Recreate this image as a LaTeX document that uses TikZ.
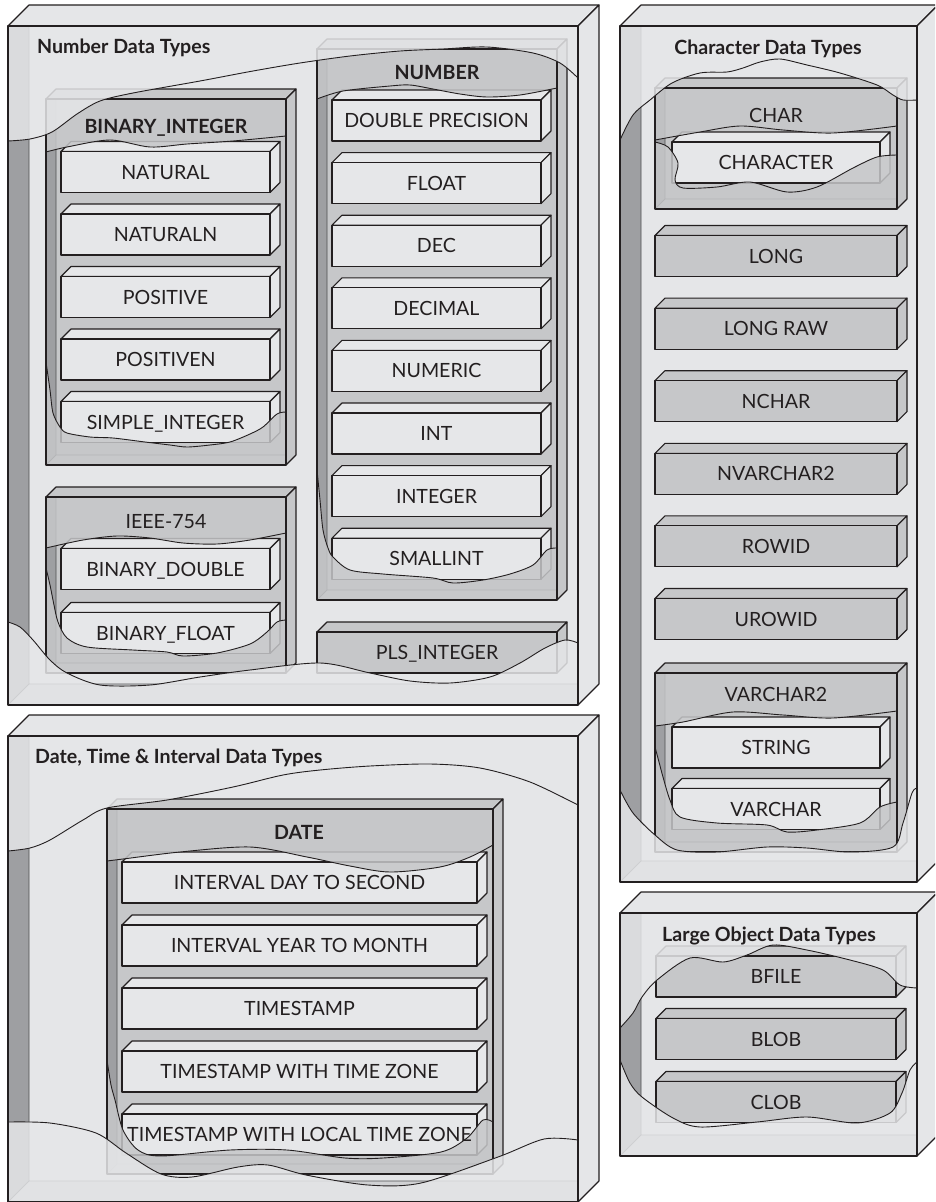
\documentclass[tikz,border=0pt]{standalone}
\usepackage{fontspec}
\setmainfont{Lato}
\pgfdeclarelayer{fg}
\pgfsetlayers{main,fg}
\definecolor{panel}{RGB}{229,230,232}
\definecolor{mid}{RGB}{198,199,201}
\definecolor{wall}{RGB}{158,159,162}
\definecolor{floorc}{RGB}{208,209,211}
\definecolor{ink}{RGB}{35,31,32}
\definecolor{innerc}{RGB}{80,80,82}
\definecolor{itemc}{RGB}{230,231,233}
\tikzset{
 edge/.style={draw=ink,line width=1.1pt,line join=round},
 innerln/.style={draw=innerc,line width=0.8pt},
 wave/.style={draw=ink,line width=0.9pt},
 lbl/.style={font=\fontsize{19.6}{22}\selectfont,text=ink,inner sep=0pt,text height=14pt,text depth=0pt},
 hdr/.style={lbl,font=\fontsize{19.6}{22}\selectfont\bfseries},
}
% container: x1 y1 x2 y2 depth face
\newcommand\cont[6]{%
 \filldraw[edge,fill=#6] (#1,#2) -- (#1+#5,#2-#5) -- (#3+#5,#2-#5) -- (#3,#2) -- cycle;
 \filldraw[edge,fill=#6] (#3,#2) -- (#3+#5,#2-#5) -- (#3+#5,#4-#5) -- (#3,#4) -- cycle;
 \fill[#6] (#1,#2) rectangle (#3,#4);
 \fill[wall] (#1,#2) -- (#1+#5,#2) -- (#1+#5,#4-#5) -- (#1,#4) -- cycle;
 \fill[floorc] (#1,#4) -- (#1+#5,#4-#5) -- (#3,#4-#5) -- (#3,#4) -- cycle;
 \draw[innerln] (#1+#5,#2) -- (#1+#5,#4-#5) -- (#3,#4-#5) (#1+#5,#4-#5) -- (#1,#4);
}
% front glass with a torn opening: x1 y1 x2 y2 face topwave bottomwave
\newcommand\glass[7]{%
 \begin{scope}
  \clip (#1,#2) rectangle (#3,#4);
  \fill[#5,opacity=0.85] (#1,#2) -- plot[smooth] coordinates {#6} -- (#3,#2) -- cycle;
  \fill[#5,opacity=0.85] (#1,#4) -- plot[smooth] coordinates {#7} -- (#3,#4) -- cycle;
 \end{scope}
 \draw[edge] (#1,#2) rectangle (#3,#4);
 \draw[wave] plot[smooth] coordinates {#6};
 \draw[wave] plot[smooth] coordinates {#7};
}
% solid item: x1 x2 cy fill name text
\newcommand\itm[6]{%
 \filldraw[edge,fill=#4] (#1,#3-20.5) -- (#1+10,#3-30.5) -- (#2+10,#3-30.5) -- (#2,#3-20.5) -- cycle;
 \filldraw[edge,fill=#4] (#2,#3-20.5) -- (#2+10,#3-30.5) -- (#2+10,#3+10.5) -- (#2,#3+20.5) -- cycle;
 \filldraw[edge,fill=#4] (#1,#3-20.5) rectangle (#2,#3+20.5);
 \begin{pgfonlayer}{fg}\node[lbl] (#5) at ({(#1+#2)/2},#3) {#6};\end{pgfonlayer}
}
\begin{document}
\begin{tikzpicture}[x=1pt,y=-1pt]
\useasboundingbox (0,0) rectangle (935,1202);
\clip (0,0) rectangle (935,1202);
\fill[white] (0,0) rectangle (935,1202);

% ===== Panel 1: Number Data Types =====
\cont{8}{26}{578}{705}{21}{panel}
% BINARY_INTEGER
\cont{46}{99}{286}{465}{10}{mid}
\itm{61}{270}{172}{itemc}{natural}{NATURAL}
\itm{61}{270}{234.5}{itemc}{naturaln}{NATURALN}
\itm{61}{270}{297}{itemc}{positive}{POSITIVE}
\itm{61}{270}{359.5}{itemc}{positiven}{POSITIVEN}
\itm{61}{270}{422}{itemc}{simpleint}{SIMPLE\_INTEGER}
\glass{46}{99}{286}{465}{mid}{(46,152) (67,147) (110,140) (150,147) (187,144) (233,141) (286,136)}{(46,362) (50,390) (53,413) (60,427) (67,433) (90,437) (113,438) (145,442) (170,445) (187,447) (210,445) (230,442) (250,434) (263,427) (277,414) (286,412)}
% IEEE-754
\cont{46}{497}{286}{673}{10}{mid}
\itm{61}{270}{569}{itemc}{bdouble}{BINARY\_DOUBLE}
\itm{61}{270}{633}{itemc}{bfloat}{BINARY\_FLOAT}
\glass{46}{497}{286}{673}{mid}{(46,548) (83,540) (117,536) (150,538) (183,543) (217,544) (250,540) (286,533)}{(46,568) (50,585) (54,605) (58,622) (67,638) (87,647) (133,650) (167,652) (183,656) (217,653) (250,644) (267,632) (277,622) (286,620)}
% NUMBER
\cont{317}{49}{557}{600}{10}{mid}
\itm{332}{541}{120.5}{itemc}{dblprec}{DOUBLE PRECISION}
\itm{332}{541}{183.1}{itemc}{float}{FLOAT}
\itm{332}{541}{245.7}{itemc}{dec}{DEC}
\itm{332}{541}{308.3}{itemc}{decimal}{DECIMAL}
\itm{332}{541}{370.9}{itemc}{numeric}{NUMERIC}
\itm{332}{541}{433.5}{itemc}{int}{INT}
\itm{332}{541}{496.1}{itemc}{integer}{INTEGER}
\itm{332}{541}{558.7}{itemc}{smallint}{SMALLINT}
\glass{317}{49}{557}{600}{mid}{(317,99) (343,91) (390,86) (410,85) (433,89) (460,94) (487,97) (520,95) (557,88)}{(317,470) (320,500) (323,530) (328,548) (333,557) (350,570) (383,574) (433,578) (453,583) (483,580) (510,574) (533,565) (547,550) (557,548)}
% PLS_INTEGER
\itm{317}{557}{652.5}{mid}{pls}{PLS\_INTEGER}
\glass{8}{26}{578}{705}{panel}{(8,141) (30,139) (52,132) (77,114) (100,101) (133,93) (200,81) (253,71) (300,63) (350,56) (400,51) (443,49) (487,47) (533,53) (560,63) (578,78)}{(8,622) (20,627) (33,640) (50,660) (67,673) (100,685) (150,685) (200,677) (250,670) (320,663) (370,673) (410,681) (450,683) (490,677) (520,663) (545,648) (565,640) (578,643)}
\begin{pgfonlayer}{fg}
\node[hdr,anchor=west] (t1) at (37,46.5) {Number Data Types};
\node[hdr] (hbi) at (166,126) {BINARY\_INTEGER};
\node[lbl] (hieee) at (166,521) {IEEE-754};
\node[hdr] (hnum) at (437,72) {NUMBER};
\end{pgfonlayer}

% ===== Panel 2: Character Data Types =====
\cont{620}{26}{917}{882}{21}{panel}
\cont{655}{88}{897}{209}{10}{mid}
\itm{672}{880}{162.5}{itemc}{character}{CHARACTER}
\glass{655}{88}{897}{209}{mid}{(655,140) (700,132) (740,126) (783,130) (833,133) (897,126)}{(655,142) (668,147) (678,163) (675,180) (683,188) (717,187) (750,182) (787,192) (817,187) (853,168) (877,157) (897,155)}
\itm{655}{897}{256}{mid}{long}{LONG}
\itm{655}{897}{328.6}{mid}{longraw}{LONG RAW}
\itm{655}{897}{401.2}{mid}{nchar}{NCHAR}
\itm{655}{897}{473.8}{mid}{nvarchar}{NVARCHAR2}
\itm{655}{897}{546.4}{mid}{rowid}{ROWID}
\itm{655}{897}{619}{mid}{urowid}{UROWID}
\cont{655}{673}{897}{852}{10}{mid}
\itm{672}{880}{747.5}{itemc}{string}{STRING}
\itm{672}{880}{809}{itemc}{varchar}{VARCHAR}
\glass{655}{673}{897}{852}{mid}{(655,726) (683,722) (733,712) (783,715) (833,718) (897,711)}{(655,747) (659,762) (663,777) (670,800) (680,817) (717,823) (767,825) (787,832) (817,830) (860,823) (880,807) (897,802)}
\glass{620}{26}{917}{882}{panel}{(620,140) (633,115) (650,100) (672,83) (700,73) (727,72) (743,68) (760,62) (780,59) (807,65) (840,73) (877,85) (893,95) (903,100) (917,100)}{(620,790) (633,813) (655,835) (677,850) (717,852) (767,847) (807,848) (850,852) (893,847) (903,823) (912,793) (917,788)}
\begin{pgfonlayer}{fg}
\node[hdr] (t2) at (768,47) {Character Data Types};
\node[lbl] (hchar) at (776,115.5) {CHAR};
\node[lbl] (hvc2) at (776,694) {VARCHAR2};
\end{pgfonlayer}

% ===== Panel 3: Large Object Data Types =====
\cont{620}{913}{917}{1156}{21}{panel}
\itm{656}{896}{976.5}{mid}{bfile}{BFILE}
\itm{656}{896}{1039}{mid}{blob}{BLOB}
\itm{656}{896}{1102}{mid}{clob}{CLOB}
\glass{620}{913}{917}{1156}{panel}{(620,1028) (633,1013) (642,997) (657,980) (690,958) (723,962) (747,955) (773,945) (807,950) (850,960) (883,970) (900,985) (917,988)}{(620,1060) (630,1083) (642,1097) (673,1118) (700,1127) (757,1122) (807,1117) (857,1123) (890,1113) (902,1093) (910,1070) (917,1062)}
\begin{pgfonlayer}{fg}
\node[hdr] (t3) at (769,934) {Large Object Data Types};
\end{pgfonlayer}

% ===== Panel 4: Date, Time & Interval Data Types =====
\cont{8}{736}{578}{1202}{21}{panel}
\cont{107}{809}{493}{1174}{10}{mid}
\itm{122}{477}{882.5}{itemc}{ids}{INTERVAL DAY TO SECOND}
\itm{122}{477}{945.5}{itemc}{iym}{INTERVAL YEAR TO MONTH}
\itm{122}{477}{1008.5}{itemc}{ts}{TIMESTAMP}
\itm{122}{477}{1071.5}{itemc}{tstz}{TIMESTAMP WITH TIME ZONE}
\itm{122}{477}{1134.5}{itemc}{tsltz}{TIMESTAMP WITH LOCAL TIME ZONE}
\glass{107}{809}{493}{1174}{mid}{(107,861) (123,859) (180,852) (250,847) (307,857) (350,866) (390,872) (440,867) (470,857) (493,845)}{(107,1060) (111,1085) (115,1100) (123,1130) (138,1150) (161,1156) (230,1150) (287,1150) (345,1158) (383,1158) (441,1152) (467,1138) (483,1120) (493,1122)}
\glass{8}{736}{578}{1202}{panel}{(8,851) (30,848) (50,840) (83,820) (107,808) (167,800) (233,787) (283,775) (320,770) (370,766) (430,764) (480,768) (530,782) (578,805)}{(8,1122) (50,1123) (96,1133) (126,1153) (161,1174) (192,1177) (238,1167) (268,1165) (306,1175) (368,1185) (421,1183) (498,1157) (544,1139) (578,1140)}
\begin{pgfonlayer}{fg}
\node[hdr,anchor=west] (t4) at (35,756.5) {Date, Time \& Interval Data Types};
\node[hdr] (hdate) at (299,832) {DATE};
\end{pgfonlayer}
\end{tikzpicture}
\end{document}
